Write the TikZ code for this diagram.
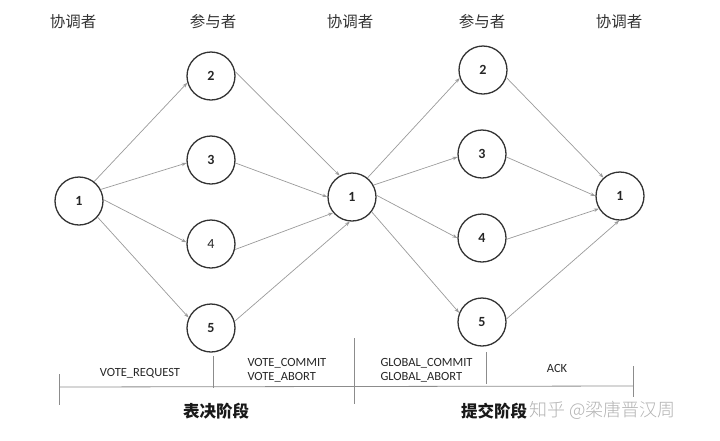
\documentclass[tikz,border=0pt]{standalone}
\usepackage{fontspec}
\setmainfont{Carlito}
\newfontfamily\cjk{Noto Sans CJK SC}
\newfontfamily\cjkl{Noto Sans CJK SC Light}
\usetikzlibrary{arrows.meta}
\definecolor{edgegray}{HTML}{9A9A9A}
\definecolor{ringgray}{HTML}{333333}
\begin{document}
\begin{tikzpicture}[x=1pt,y=-1pt,
  pnode/.style={circle,draw=ringgray,line width=1.3pt,minimum size=48pt,inner sep=0pt,font=\fontsize{14}{16}\selectfont\bfseries,text=black!85},
  flow/.style={draw=edgegray,line width=0.7pt,-{Stealth[length=5pt,width=3.5pt]}},
  hdr/.style={font=\cjk\fontsize{15.5}{18}\selectfont,text=black!80},
  msg/.style={font=\fontsize{12.5}{14}\selectfont,text=black!85,align=left},
  phase/.style={font=\cjk\fontsize{16.5}{19}\selectfont\bfseries,text=black!90},
  axis/.style={draw=black!45,line width=0.8pt}]
\useasboundingbox (0,0) rectangle (720,440);
% headers
\node[hdr] (h1) at (73,22) {协调者};
\node[hdr] (h2) at (213,22) {参与者};
\node[hdr] (h3) at (350,22) {协调者};
\node[hdr] (h4) at (482,22) {参与者};
\node[hdr] (h5) at (619,22) {协调者};
% nodes
\node[pnode] (l1) at (79,201) {1};
\node[pnode] (a2) at (211,76) {2};
\node[pnode] (a3) at (211,160) {3};
\node[pnode,font=\fontsize{14}{16}\selectfont] (a4) at (211,244) {4};
\node[pnode] (a5) at (211,328) {5};
\node[pnode] (m1) at (352,197) {1};
\node[pnode] (b2) at (483,70) {2};
\node[pnode] (b3) at (482,154) {3};
\node[pnode] (b4) at (482,238) {4};
\node[pnode] (b5) at (482,322) {5};
\node[pnode] (r1) at (620,196) {1};
% first phase
\draw[flow] (l1.52) -- (a2.196);
\draw[flow] (l1.28) -- (a3.187);
\draw[flow] (l1.3) -- (a4.176);
\draw[flow] (l1.-41) -- (a5.155);
\draw[flow] (a2.10) -- (m1.120);
\draw[flow] (a3.-7) -- (m1.180);
\draw[flow] (a4.-13) -- (m1.220);
\draw[flow] (a5.16) -- (m1.265);
% second phase
\draw[flow] (m1.51) -- (b2.199);
\draw[flow] (m1.29) -- (b3.187);
\draw[flow] (m1.4) -- (b4.180);
\draw[flow] (m1.-37) -- (b5.158);
\draw[flow] (b2.-18) -- (r1.132);
\draw[flow] (b3.-7) -- (r1.180);
\draw[flow] (b4.-3) -- (r1.211);
\draw[flow] (b5.7) -- (r1.268);
% time axis
\coordinate (axl) at (59,387);
\coordinate (axr) at (633,386);
\draw[axis] (axl) -- (axr);
\draw[axis] (59,374) -- (59,405);
\draw[axis] (213,356) -- (213,388);
\draw[axis] (354,338) -- (354,404);
\draw[axis] (486,352) -- (486,384);
\draw[axis] (633,366) -- (633,397);
% messages
\node[msg] (m_vr) at (140,373) {VOTE\_REQUEST};
\node[msg,anchor=west] (m_vc) at (244,370) {VOTE\_COMMIT\\VOTE\_ABORT};
\node[msg,anchor=west] (m_gc) at (377,370) {GLOBAL\_COMMIT\\GLOBAL\_ABORT};
\node[msg] (m_ack) at (557,368) {ACK};
% phases
\node[phase] (p1) at (216,411) {表决阶段};
\node[phase] (p2) at (494,411) {提交阶段};
\node[font=\cjkl\fontsize{18}{20}\selectfont,text=black!30,anchor=west] (wm) at (526,410) {知乎 @梁唐晋汉周};
\end{tikzpicture}
\end{document}
